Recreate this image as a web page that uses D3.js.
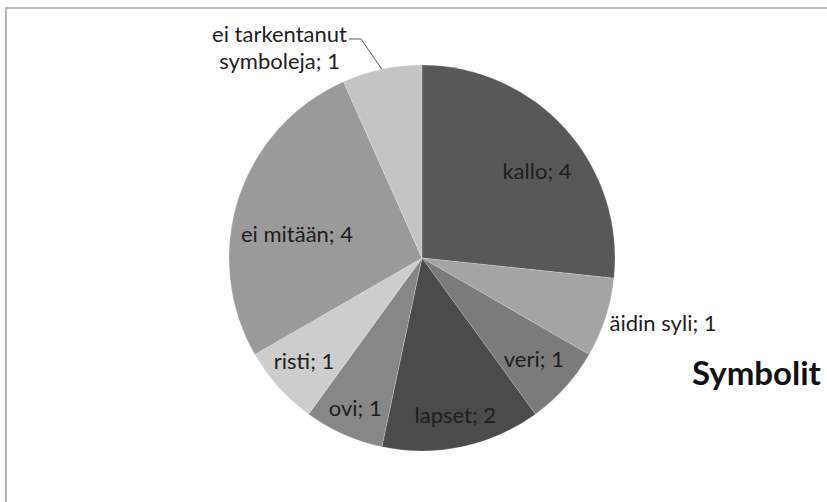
<!DOCTYPE html>
<html>
<head>
<meta charset="utf-8">
<script src="https://cdn.jsdelivr.net/npm/d3@7"></script>
<style>
  html, body { margin: 0; padding: 0; background: #ffffff; }
  svg { display: block; }
  text { font-family: Lato, "Open Sans", sans-serif; }
</style>
</head>
<body>
<svg id="chart" width="827" height="502"></svg>
<script>
// Symbol categories and their counts, clockwise from 12 o'clock
const categories = ["kallo", "äidin syli", "veri", "lapset", "ovi", "risti", "ei mitään", "ei tarkentanut symboleja"];
const counts = [4, 1, 1, 2, 1, 1, 4, 1];
const sliceColors = ["#585858", "#a4a4a4", "#7b7b7b", "#4b4b4b", "#878787", "#cdcdcd", "#9a9a9a", "#c4c4c4"];
const chartTitle = "Symbolit";

// Label placement per slice: radial factor, angle tweak (deg), mode
const labelLayout = {
  "kallo": { r: 0.75, da: 4.6, mode: "inside" },
  "äidin syli": { r: 1.0, da: 0, mode: "outside" },
  "veri": { r: 0.78, da: 0, mode: "inside" },
  "lapset": { r: 0.83, da: 0, mode: "inside" },
  "ovi": { r: 0.85, da: 0, mode: "inside" },
  "risti": { r: 0.81, da: 1, mode: "inside" },
  "ei mitään": { r: 0.66, da: -7, mode: "inside" },
  "ei tarkentanut symboleja": { r: 1.3, angle: 325.4, mode: "leader", lines: ["ei tarkentanut", "symboleja; 1"] }
};

const svg = d3.select("#chart");
const W = 827, H = 502;

// chart-area frame (only the top and left edges fall inside the view)
svg.append("rect")
  .attr("x", 6).attr("y", 8)
  .attr("width", W + 20).attr("height", H + 20)
  .attr("fill", "#ffffff")
  .attr("stroke", "#b9b9b9")
  .attr("stroke-width", 2);

const cx = 422, cy = 258, R = 193;
const data = categories.map((c, i) => ({ name: c, value: counts[i], color: sliceColors[i] }));

const pie = d3.pie().value(d => d.value).sort(null);
const arcs = pie(data);
const arc = d3.arc().innerRadius(0).outerRadius(R);

const g = svg.append("g").attr("transform", `translate(${cx},${cy})`);

g.selectAll("path.slice")
  .data(arcs)
  .enter().append("path")
  .attr("class", "slice")
  .attr("d", arc)
  .attr("fill", d => d.data.color)
  .attr("stroke", "#ffffff")
  .attr("stroke-opacity", 0.25)
  .attr("stroke-width", 0.8);

function polar(angleDeg, r) {
  const a = angleDeg * Math.PI / 180;
  return [r * Math.sin(a), -r * Math.cos(a)];
}

const labelColor = "#1e1e1e";
const fs = 22;

arcs.forEach(d => {
  const lay = labelLayout[d.data.name];
  const mid = (d.startAngle + d.endAngle) / 2 * 180 / Math.PI;
  const text = `${d.data.name}; ${d.data.value}`;
  if (lay.mode === "inside") {
    const [x, y] = polar(mid + lay.da, R * lay.r);
    g.append("text")
      .attr("x", x).attr("y", y)
      .attr("text-anchor", "middle")
      .attr("dominant-baseline", "central")
      .attr("font-size", fs)
      .attr("fill", labelColor)
      .text(text);
  } else if (lay.mode === "outside") {
    const [x, y] = polar(mid, R * lay.r);
    g.append("text")
      .attr("x", x + 4).attr("y", y + 5)
      .attr("text-anchor", "start")
      .attr("dominant-baseline", "central")
      .attr("font-size", fs)
      .attr("fill", labelColor)
      .text(text);
  } else if (lay.mode === "leader") {
    const [tx, ty] = polar(lay.angle, R * lay.r);
    const lh = 27;
    const t = g.append("text")
      .attr("text-anchor", "middle")
      .attr("font-size", fs)
      .attr("fill", labelColor);
    lay.lines.forEach((ln, i) => {
      t.append("tspan")
        .attr("x", tx)
        .attr("y", ty - lh / 2 + 4 + i * lh)
        .text(ln);
    });
    const first = t.select("tspan").node().getComputedTextLength();
    const lx = tx + first / 2 + 2;
    const ly = ty - lh / 2 + 1;
    const [ex, ey] = polar(mid, R);
    g.append("path")
      .attr("d", `M${lx},${ly}H${lx + 12}L${ex},${ey}`)
      .attr("fill", "none")
      .attr("stroke", "#4a4a4a")
      .attr("stroke-width", 0.9);
  }
});

// chart title on the right
svg.append("text")
  .attr("x", 692).attr("y", 385)
  .attr("font-size", 33)
  .attr("font-weight", "bold")
  .attr("fill", "#111111")
  .text(chartTitle);
</script>
</body>
</html>
